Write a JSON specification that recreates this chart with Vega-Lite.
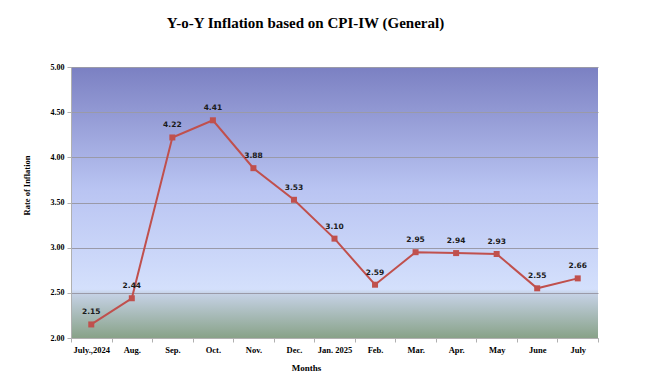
{
  "$schema": "https://vega.github.io/schema/vega-lite/v6.json",
  "width": 527,
  "height": 271,
  "autosize": {"type": "none"},
  "padding": {"left": 71, "top": 67, "right": 56, "bottom": 47},
  "background": "white",
  "config": {
    "view": {
      "stroke": null,
      "fill": {
        "gradient": "linear",
        "x1": 0, "y1": 0, "x2": 0, "y2": 1,
        "stops": [
          {"offset": 0, "color": "#7b80c2"},
          {"offset": 0.45, "color": "#b9c4f2"},
          {"offset": 0.82, "color": "#d4e0fc"},
          {"offset": 0.835, "color": "#c6d2e6"},
          {"offset": 1, "color": "#88a288"}
        ]
      }
    }
  },
  "title": {
    "text": "Y-o-Y Inflation based on CPI-IW (General)",
    "font": "Liberation Serif",
    "fontSize": 15,
    "fontWeight": "bold",
    "color": "#000000",
    "anchor": "middle",
    "dx": -29,
    "offset": 32
  },
  "data": {
    "values": [
      {"month": "July.,2024", "rate": 2.15},
      {"month": "Aug.", "rate": 2.44},
      {"month": "Sep.", "rate": 4.22},
      {"month": "Oct.", "rate": 4.41},
      {"month": "Nov.", "rate": 3.88},
      {"month": "Dec.", "rate": 3.53},
      {"month": "Jan. 2025", "rate": 3.10},
      {"month": "Feb.", "rate": 2.59},
      {"month": "Mar.", "rate": 2.95},
      {"month": "Apr.", "rate": 2.94},
      {"month": "May", "rate": 2.93},
      {"month": "June", "rate": 2.55},
      {"month": "July", "rate": 2.66}
    ]
  },
  "encoding": {
    "x": {
      "field": "month",
      "type": "ordinal",
      "sort": null,
      "scale": {"paddingInner": 0, "paddingOuter": 0},
      "axis": {
        "title": "Months",
        "titleFont": "Liberation Serif",
        "titleFontSize": 9,
        "titleFontWeight": "bold",
        "titleColor": "#000000",
        "titleX": 235,
        "titleY": 25,
        "labelFont": "Liberation Serif",
        "labelFontSize": 8.5,
        "labelFontWeight": "bold",
        "labelColor": "#000000",
        "labelAngle": 0,
        "labelPadding": 3,
        "tickBand": "extent",
        "tickColor": "#b0b0b0",
        "tickSize": 4,
        "domainColor": "#b0b0b0",
        "grid": false
      }
    },
    "y": {
      "field": "rate",
      "type": "quantitative",
      "scale": {"domain": [2, 5], "nice": false, "zero": false},
      "axis": {
        "title": "Rate of Inflation",
        "titleFont": "Liberation Serif",
        "titleFontSize": 8.5,
        "titleFontWeight": "bold",
        "titleColor": "#000000",
        "titleX": -40,
        "titleY": 118,
        "titleAngle": -90,
        "values": [2, 2.5, 3, 3.5, 4, 4.5, 5],
        "format": ".2f",
        "labelFont": "Liberation Serif",
        "labelFontSize": 8,
        "labelFontWeight": "bold",
        "labelColor": "#000000",
        "labelPadding": 3,
        "tickColor": "#b0b0b0",
        "tickSize": 4,
        "domainColor": "#b0b0b0",
        "gridColor": "#9a9aa8",
        "gridWidth": 1
      }
    }
  },
  "layer": [
    {
      "mark": {"type": "line", "color": "#c0504d", "strokeWidth": 2}
    },
    {
      "mark": {"type": "square", "color": "#c0504d", "opacity": 1, "size": 36, "filled": true}
    },
    {
      "mark": {
        "type": "text",
        "font": "DejaVu Sans",
        "fontSize": 7.5,
        "fontWeight": "bold",
        "color": "#1a1a1a",
        "dy": -12
      },
      "encoding": {
        "text": {"field": "rate", "type": "quantitative", "format": ".2f"}
      }
    }
  ]
}
